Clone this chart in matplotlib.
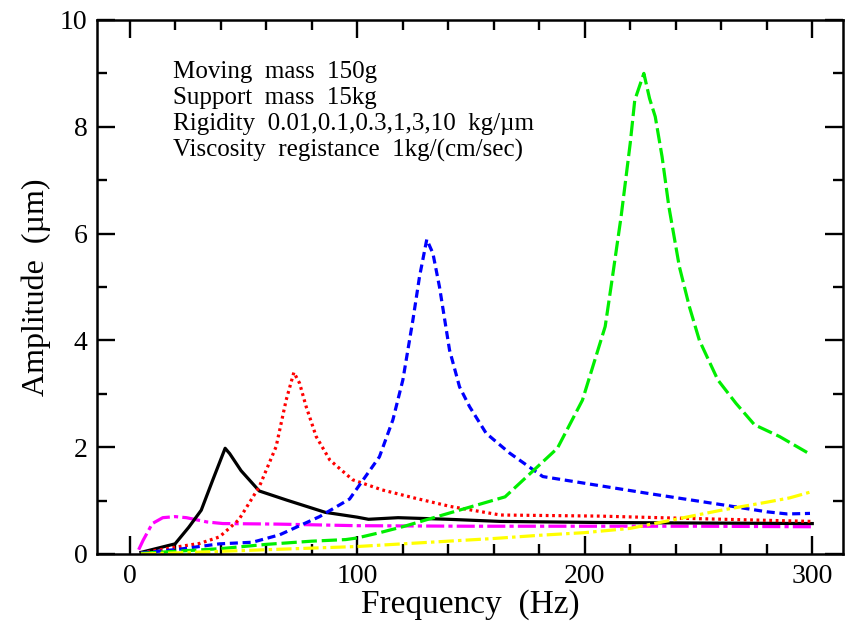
import matplotlib
matplotlib.use("Agg")
import matplotlib.pyplot as plt
from matplotlib.ticker import MultipleLocator

plt.rcParams['font.family'] = ['Liberation Serif', 'DejaVu Serif']
plt.rcParams['lines.scale_dashes'] = False

# Frequency response for each support rigidity (kg/um)
freq_k001 = [4, 6, 10, 14.6, 20, 25, 34, 41, 65, 100, 150, 200, 250, 300]
amp_k001 = [0.08, 0.26, 0.57, 0.68, 0.70, 0.68, 0.60, 0.57, 0.56, 0.53, 0.52, 0.52, 0.52, 0.51]

freq_k01 = [5, 20, 26, 31.5, 36.6, 42, 44, 49, 57, 69, 86, 100, 105, 118, 140, 163, 206, 250, 300]
amp_k01 = [0.03, 0.19, 0.50, 0.82, 1.39, 1.98, 1.88, 1.56, 1.18, 1.01, 0.78, 0.69, 0.65, 0.68, 0.65, 0.61, 0.59, 0.58, 0.57]

freq_k03 = [5, 22, 31, 39.5, 48, 57, 64.4, 68.8, 72.2, 74.7, 77.6, 82, 88, 98, 111, 125, 141, 163, 206, 242, 300]
amp_k03 = [0.02, 0.14, 0.20, 0.32, 0.64, 1.26, 2.01, 2.88, 3.40, 3.20, 2.76, 2.20, 1.76, 1.39, 1.20, 1.05, 0.89, 0.73, 0.71, 0.67, 0.61]

freq_k1 = [5, 22, 39.5, 54, 66, 83.5, 96.7, 109.8, 115.7, 120.1, 124.5, 127.4, 130.6, 133.3,
           136.2, 140.6, 145, 149.4, 156.7, 167, 181.6, 206.5, 227, 260.7, 280, 289, 299]
amp_k1 = [0.02, 0.09, 0.19, 0.22, 0.36, 0.70, 1.03, 1.82, 2.51, 3.26, 4.38, 5.19, 5.89, 5.63,
          5.00, 3.82, 3.13, 2.76, 2.26, 1.89, 1.45, 1.28, 1.14, 0.92, 0.79, 0.75, 0.76]

freq_k3 = [5, 20, 40, 60, 80, 95, 100, 110, 120, 140, 165, 188, 199, 204, 209, 212, 216, 220, 222,
           226, 228.5, 231, 234, 237, 241.6, 246, 250.4, 258.5, 266.5, 274.6, 285.6, 299]
amp_k3 = [0.01, 0.05, 0.10, 0.18, 0.24, 0.27, 0.30, 0.40, 0.51, 0.76, 1.07, 1.98, 2.88, 3.57, 4.26,
          5.13, 6.32, 7.69, 8.50, 9.00, 8.53, 8.19, 7.44, 6.50, 5.38, 4.63, 4.00, 3.26, 2.82, 2.42, 2.20, 1.87]

freq_k10 = [5, 20, 40, 60, 80, 100, 120, 140, 160, 180, 200, 220, 240, 260, 280, 290, 300]
amp_k10 = [0.0, 0.02, 0.05, 0.08, 0.11, 0.14, 0.19, 0.24, 0.29, 0.35, 0.40, 0.48, 0.65, 0.82, 0.97, 1.05, 1.17]

x_ticks = [0, 100, 200, 300]
y_ticks = [0, 2, 4, 6, 8, 10]

fig = plt.figure(figsize=(8.48, 6.21), dpi=100)
ax = fig.add_axes([0.1144, 0.1079, 0.8797, 0.8599])

lw = 2.3
ax.plot(freq_k001, amp_k001, color='#ff00ff', lw=lw, linestyle=(0, (13, 3, 3, 3)))
ax.plot(freq_k01, amp_k01, color='black', lw=lw, linestyle='-')
ax.plot(freq_k03, amp_k03, color='#ff0000', lw=lw, linestyle=(0, (2, 2.6)))
ax.plot(freq_k1, amp_k1, color='#0000ff', lw=lw, linestyle=(0, (5.8, 3.4)))
ax.plot(freq_k3, amp_k3, color='#00ee00', lw=lw, linestyle=(0, (11, 3.5)))
ax.plot(freq_k10, amp_k10, color='#ffff00', lw=lw, linestyle=(0, (11, 3, 2.5, 3)))

ax.set_xlim(-14.3, 313.5)
ax.set_ylim(0, 10)
ax.set_xticks(x_ticks)
ax.set_yticks(y_ticks)
ax.xaxis.set_minor_locator(MultipleLocator(20))
ax.yaxis.set_minor_locator(MultipleLocator(1))

ax.tick_params(which='both', direction='in', top=True, right=True, width=1.7, labelsize=20)
ax.tick_params(which='major', length=13, pad=7)
ax.tick_params(which='minor', length=7)
for sp in ax.spines.values():
    sp.set_linewidth(1.8)

ax.set_xlabel('Frequency  (Hz)', fontsize=24, labelpad=0)
ax.set_ylabel('Amplitude  (\u00b5m)', fontsize=23, labelpad=6)

ax.text(0.102, 0.924,
        'Moving  mass  150g\n'
        'Support  mass  15kg\n'
        'Rigidity  0.01,0.1,0.3,1,3,10  kg/\u00b5m\n'
        'Viscosity  registance  1kg/(cm/sec)',
        transform=ax.transAxes, ha='left', va='top', fontsize=18, linespacing=1.24)

fig.savefig('out.png', dpi=100)
